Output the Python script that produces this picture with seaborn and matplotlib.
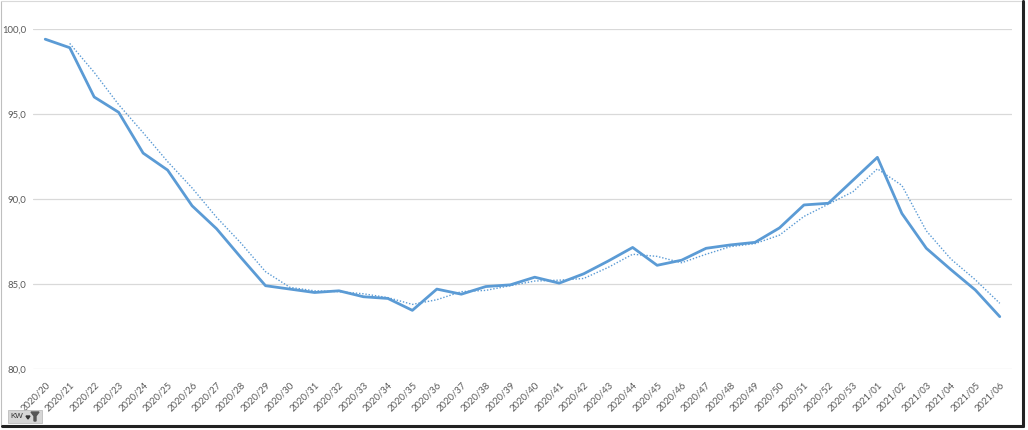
import numpy as np
import pandas as pd
import matplotlib
matplotlib.use("Agg")
import matplotlib.pyplot as plt
from matplotlib.lines import Line2D
from matplotlib.patches import Rectangle, Polygon
import seaborn as sns

# ── Data ──────────────────────────────────────────────────────────────────────
weeks = [f"2020/{w}" for w in range(20, 54)] + [f"2021/{w:02d}" for w in range(1, 7)]
values = [
    99.4, 98.9, 96.0, 95.1, 92.7, 91.7, 89.6, 88.25, 86.55, 84.9,
    84.7, 84.5, 84.6, 84.25, 84.15, 83.45, 84.7, 84.4, 84.85, 84.95,
    85.4, 85.05, 85.6, 86.35, 87.15, 86.1, 86.4, 87.1, 87.3, 87.45,
    88.3, 89.65, 89.75, 91.1, 92.45, 89.15, 87.1, 85.85, 84.65, 83.08,
]
y_ticks = [80, 85, 90, 95, 100]

df = pd.DataFrame({"week": weeks, "value": values})
# Excel trendline: 2-period moving average
df["trend"] = df["value"].rolling(2).mean()

blue = "#5B9BD5"
grid_c = "#D9D9D9"
text_c = "#595959"

sns.set_theme(style="white")
plt.rcParams["font.family"] = ["Lato", "DejaVu Sans"]

fig = plt.figure(figsize=(10.28, 4.30), dpi=100)
ax = fig.add_axes([33 / 1028, 1 - 369 / 430, (1012 - 33) / 1028, (369 - 29) / 430])

sns.lineplot(data=df, x="week", y="value", ax=ax, color=blue, linewidth=2.0, sort=False)
sns.lineplot(data=df, x="week", y="trend", ax=ax, color=blue, linewidth=1.0,
             linestyle=(0, (1, 1.3)), sort=False)

ax.set_xlim(-0.5, len(weeks) - 0.5)
ax.set_ylim(80, 100)
ax.set_yticks(y_ticks)
ax.set_yticklabels([f"{t:.1f}".replace(".", ",") for t in y_ticks])
ax.set_xticks(range(len(weeks)))
ax.set_xticklabels(weeks, rotation=45, ha="right", va="top", rotation_mode="anchor")
ax.tick_params(axis="both", labelsize=6.8, colors=text_c, length=0)
ax.tick_params(axis="x", pad=8)
ax.tick_params(axis="y", pad=5)
ax.set_xlabel("")
ax.set_ylabel("")
ax.grid(axis="y", color=grid_c, linewidth=0.9)
ax.set_axisbelow(True)
for s in ax.spines.values():
    s.set_visible(False)

# ── Screenshot frame ──────────────────────────────────────────────────────────
W, H = 1028, 430
def fx(px):
    return px / W
def fy(py):
    return 1 - py / H

fig.add_artist(Line2D([fx(1), fx(1)], [fy(1), fy(425)], color="#BFBFBF", lw=0.8))
fig.add_artist(Line2D([fx(1), fx(1023)], [fy(1), fy(1)], color="#D9D9D9", lw=0.8))
fig.add_artist(Line2D([fx(1023), fx(1023)], [fy(1), fy(426)], color="#222222", lw=2.2))
fig.add_artist(Line2D([fx(2), fx(1023)], [fy(426), fy(426)], color="#222222", lw=2.2))

# ── "KW" field button ─────────────────────────────────────────────────────────
fig.add_artist(Rectangle((fx(8), fy(423)), fx(34), 13 / H, transform=fig.transFigure,
                         facecolor="#D6D6D6", edgecolor="#BDBDBD", lw=0.6))
fig.text(fx(10), fy(416.5), "KW", fontsize=5.8, color="#333333", va="center", ha="left",
         family=["Liberation Sans", "DejaVu Sans"])
fig.add_artist(Polygon([(fx(26), fy(416)), (fx(30), fy(416)), (fx(28), fy(419))],
                       closed=True, transform=fig.transFigure, color="#333333"))
fig.add_artist(Polygon([(fx(31), fy(412)), (fx(39), fy(412)), (fx(36), fy(416)),
                        (fx(36), fy(421)), (fx(34), fy(421)), (fx(34), fy(416))],
                       closed=True, transform=fig.transFigure, color="#555555"))

fig.savefig("out.png", dpi=100)
